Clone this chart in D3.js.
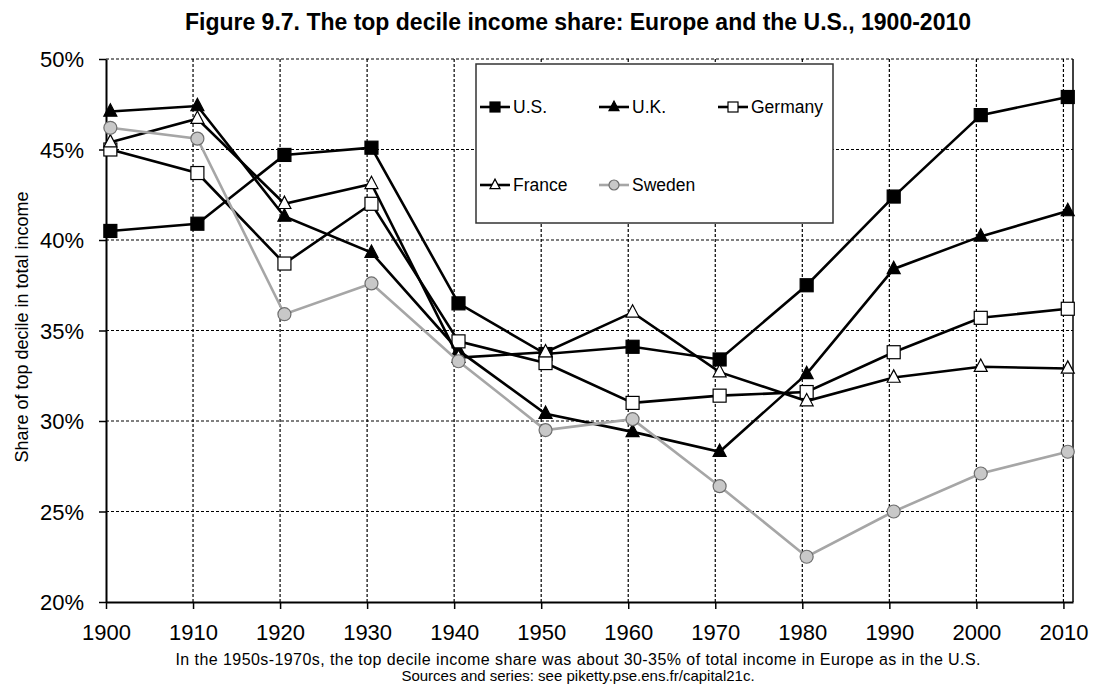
<!DOCTYPE html>
<html>
<head>
<meta charset="utf-8">
<script src="https://cdn.jsdelivr.net/npm/d3@7"></script>
<style>
  body { margin: 0; background: #fff; }
  text { font-family: "Liberation Sans", Arial, sans-serif; }
</style>
</head>
<body>
<div id="chart"></div>
<script>
// decades (points sit half a year right of the gridline, as in the original)
const years = [1900, 1910, 1920, 1930, 1940, 1950, 1960, 1970, 1980, 1990, 2000, 2010]
const us      = [40.5, 40.9, 44.7, 45.1, 36.5, 33.7, 34.1, 33.4, 37.5, 42.4, 46.9, 47.9]
const uk      = [47.1, 47.4, 41.3, 39.3, 33.9, 30.4, 29.4, 28.3, 32.6, 38.4, 40.2, 41.6]
const germany = [45.0, 43.7, 38.7, 42.0, 34.4, 33.2, 31.0, 31.4, 31.6, 33.8, 35.7, 36.2]
const france  = [45.4, 46.7, 42.0, 43.1, 33.5, 33.8, 36.0, 32.7, 31.1, 32.4, 33.0, 32.9]
const sweden  = [46.2, 45.6, 35.9, 37.6, 33.3, 29.5, 30.1, 26.4, 22.5, 25.0, 27.1, 28.3]

const seriesNames = ["U.S.", "U.K.", "Germany", "France", "Sweden"]
const yTicks = [20, 25, 30, 35, 40, 45, 50]

const title = "Figure 9.7. The top decile income share: Europe and the U.S., 1900-2010"
const yTitle = "Share of top decile in total income"
const note1 = "In the 1950s-1970s, the top decile income share was about 30-35% of total income in Europe as in the U.S."
const note2 = "Sources and series: see piketty.pse.ens.fr/capital21c."

const width = 1097, height = 686
const pLeft = 106, pRight = 1073, pTop = 59, pBottom = 602

const svg = d3.select("#chart").append("svg")
  .attr("width", width)
  .attr("height", height)

const x = d3.scaleLinear().domain([1900, 2011.1]).range([pLeft, pRight])
const y = d3.scaleLinear().domain([20, 50]).range([pBottom, pTop])

// styles per series
const styles = {
  "U.S.":    {shape: "square",   fill: "#000",    stroke: "#000",    line: "#000"},
  "U.K.":    {shape: "triangle", fill: "#000",    stroke: "#000",    line: "#000"},
  "Germany": {shape: "square",   fill: "#fff",    stroke: "#000",    line: "#000"},
  "France":  {shape: "triangle", fill: "#fff",    stroke: "#000",    line: "#000"},
  "Sweden":  {shape: "circle",   fill: "#c8c8c8", stroke: "#6e6e6e", line: "#a6a6a6"}
}
const allSeries = [us, uk, germany, france, sweden].map((vals, i) => ({
  name: seriesNames[i],
  values: years.map((yr, j) => ({year: yr, v: vals[j]}))
}))

// grid
svg.append("g")
  .selectAll("line")
  .data(yTicks.filter(d => d > 20))
  .join("line")
  .attr("x1", pLeft).attr("x2", pRight)
  .attr("y1", d => y(d)).attr("y2", d => y(d))
  .attr("stroke", "#000")
  .attr("stroke-width", 1.2)
  .attr("stroke-dasharray", "3,2")

svg.append("g")
  .selectAll("line")
  .data(years.slice(1))
  .join("line")
  .attr("x1", d => x(d)).attr("x2", d => x(d))
  .attr("y1", pTop).attr("y2", pBottom)
  .attr("stroke", "#000")
  .attr("stroke-width", 1.2)
  .attr("stroke-dasharray", "3,2")

// right border
svg.append("line")
  .attr("x1", pRight).attr("x2", pRight)
  .attr("y1", pTop).attr("y2", pBottom)
  .attr("stroke", "#000").attr("stroke-width", 1.5)

// axes
const yAxis = d3.axisLeft(y).tickValues(yTicks).tickSize(7).tickSizeOuter(0)
  .tickFormat(d => d + "%")
const gy = svg.append("g").attr("transform", `translate(${pLeft},0)`).call(yAxis)
gy.select(".domain").attr("stroke-width", 2)
gy.selectAll(".tick line").attr("stroke-width", 1.5)
gy.selectAll(".tick text")
  .attr("x", -22).attr("dy", "0.36em")
  .style("font-size", "22px").style("font-family", "'Liberation Sans', Arial, sans-serif")
  .attr("fill", "#000")

const xAxis = d3.axisBottom(x).tickValues(years).tickSize(7).tickSizeOuter(0)
  .tickFormat(d3.format("d"))
const gx = svg.append("g").attr("transform", `translate(0,${pBottom})`).call(xAxis)
gx.select(".domain").attr("stroke-width", 2)
gx.selectAll(".tick line").attr("stroke-width", 1.5)
gx.selectAll(".tick text")
  .attr("y", 22).attr("dy", "0.71em")
  .style("font-size", "22px").style("font-family", "'Liberation Sans', Arial, sans-serif")
  .attr("fill", "#000")

// lines + markers
const line = d3.line().x(d => x(d.year + 0.5)).y(d => y(d.v))

function drawMarker(sel, st, size) {
  if (st.shape === "circle") {
    sel.append("circle").attr("r", size / 2)
  } else if (st.shape === "square") {
    sel.append("rect").attr("x", -size / 2).attr("y", -size / 2)
      .attr("width", size).attr("height", size)
  } else {
    const h = size * 0.95
    sel.append("path").attr("d", `M0,${-h * 0.62}L${size / 2},${h * 0.38}L${-size / 2},${h * 0.38}Z`)
  }
  sel.selectAll("*").attr("fill", st.fill).attr("stroke", st.stroke).attr("stroke-width", 1.2)
}

allSeries.forEach(s => {
  const st = styles[s.name]
  svg.append("path")
    .datum(s.values)
    .attr("d", line)
    .attr("fill", "none")
    .attr("stroke", st.line)
    .attr("stroke-width", 2.6)
  svg.append("g")
    .selectAll("g")
    .data(s.values)
    .join("g")
    .attr("transform", d => `translate(${x(d.year + 0.5)},${y(d.v)})`)
    .each(function() { drawMarker(d3.select(this), st, 13) })
})

// legend
const lg = svg.append("g")
lg.append("rect")
  .attr("x", 476).attr("y", 64)
  .attr("width", 357).attr("height", 159)
  .attr("fill", "#fff").attr("stroke", "#333").attr("stroke-width", 1.5)

const legendPos = [[480, 107], [599, 107], [718, 107], [480, 185], [599, 185]]
seriesNames.forEach((name, i) => {
  const st = styles[name]
  const [lx, ly] = legendPos[i]
  const g = lg.append("g")
  g.append("line")
    .attr("x1", lx).attr("x2", lx + 30)
    .attr("y1", ly).attr("y2", ly)
    .attr("stroke", st.line).attr("stroke-width", 2.6)
  const m = g.append("g").attr("transform", `translate(${lx + 15},${ly})`)
  drawMarker(m, st, 10)
  g.append("text")
    .attr("x", lx + 33).attr("y", ly)
    .attr("dy", "0.36em")
    .style("font-size", "17.5px")
    .text(name)
})

// titles
svg.append("text")
  .attr("x", 578).attr("y", 30)
  .attr("text-anchor", "middle")
  .style("font-family", "'Liberation Sans Narrow', 'Arial Narrow', 'Liberation Sans', sans-serif")
  .style("font-weight", "bold")
  .style("font-size", "23px")
  .text(title)

svg.append("text")
  .attr("transform", `translate(28,327) rotate(-90)`)
  .attr("text-anchor", "middle")
  .style("font-size", "18px")
  .text(yTitle)

svg.append("text")
  .attr("x", 578).attr("y", 665)
  .attr("text-anchor", "middle")
  .attr("textLength", 805)
  .attr("lengthAdjust", "spacing")
  .style("font-size", "16px")
  .text(note1)

svg.append("text")
  .attr("x", 578).attr("y", 681)
  .attr("text-anchor", "middle")
  .style("font-size", "15px")
  .text(note2)
</script>
</body>
</html>
